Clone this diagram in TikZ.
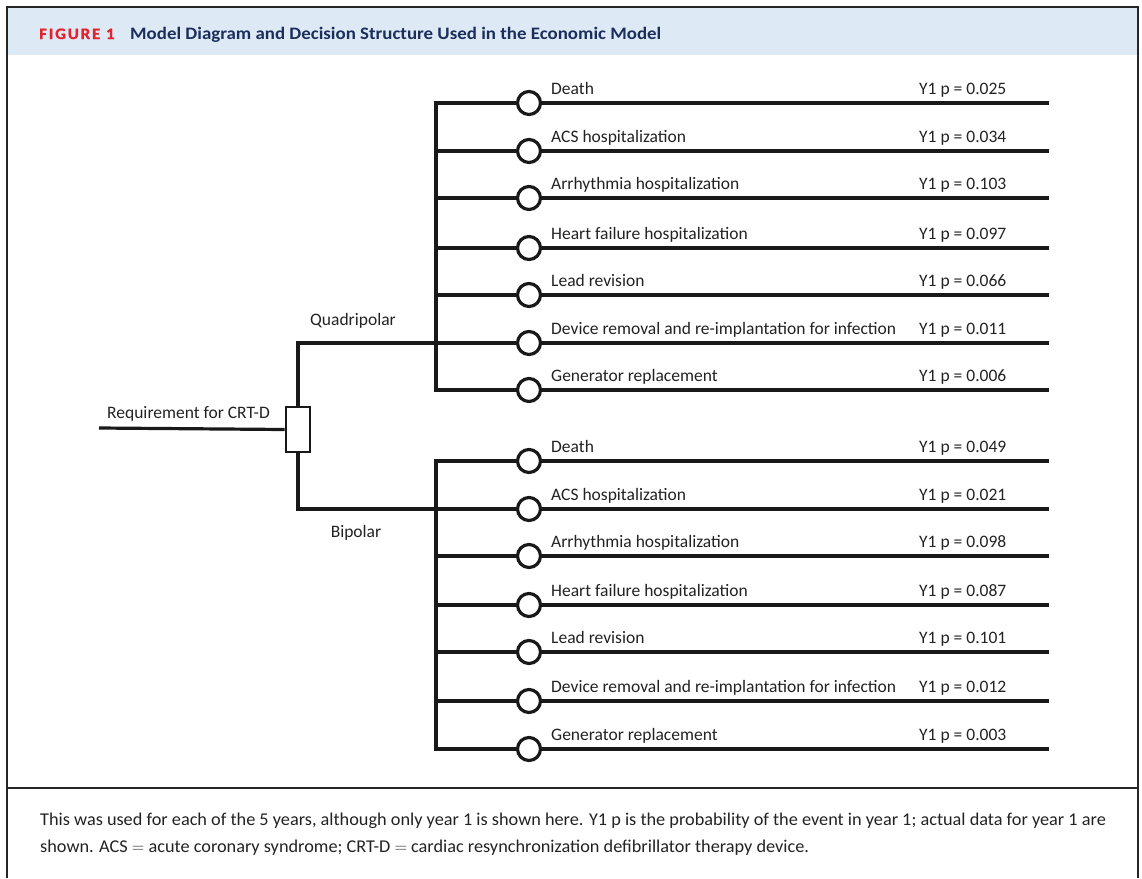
\documentclass[tikz,border=0pt]{standalone}
\usepackage{fontspec}
\setmainfont{Carlito}
\newfontfamily\capfont[FakeStretch=1.015]{Carlito}
\newfontfamily\titlefont[FakeStretch=1.08]{Carlito}
\newfontfamily\figfont[LetterSpace=12, FakeBold=1.2, FakeStretch=1.05]{Carlito Bold}
\definecolor{bandblue}{HTML}{DDE9F5}
\definecolor{figred}{HTML}{E3222D}
\definecolor{navy}{HTML}{1B2E5C}
\definecolor{txt}{HTML}{222222}
\tikzset{
  tree/.style={line width=3.2pt, black!90},
  chance/.style={circle, draw=black!90, line width=3.2pt, fill=white, minimum size=23pt, inner sep=0pt},
  decision/.style={rectangle, draw=black!90, line width=2.8pt, fill=white, minimum width=24pt, minimum height=45pt, inner sep=0pt},
  evlab/.style={anchor=base west, inner sep=0pt, font=\fontsize{17.5}{20}\selectfont, text=txt},
  plab/.style={anchor=base west, inner sep=0pt, font=\fontsize{17.5}{20}\selectfont, text=txt},
  armlab/.style={anchor=base, inner sep=0pt, font=\fontsize{17.5}{20}\selectfont, text=txt},
  caplab/.style={anchor=base west, inner sep=0pt, font=\capfont\fontsize{18}{20}\selectfont, text=txt},
  frame/.style={line width=1.8pt, black!85}
}
\begin{document}
\begin{tikzpicture}[x=1pt,y=-1pt]
\useasboundingbox (0,0) rectangle (1142,878);
% header band and frame
\fill[bandblue] (7,8) rectangle (1138,55);
\draw[frame] (7,878) -- (7,7) -- (1138,7) -- (1138,878);
\draw[frame] (7,788) -- (1138,788);
\node[anchor=base west, inner sep=0pt, font=\figfont\fontsize{16}{18}\selectfont, text=figred] (fig) at (39,39) {FIGURE 1};
\node[anchor=base west, inner sep=0pt, font=\titlefont\bfseries\fontsize{17.5}{20}\selectfont, text=navy] (title) at (130,39) {Model Diagram and Decision Structure Used in the Economic Model};

% decision node
\coordinate (in) at (99,428);
\node[decision] (dec) at (298,429.5) {};
\draw[tree] (in) -- (dec.west);
\node[plab] (req) at (107,418) {Requirement for CRT-D};

% Quadripolar arm
\foreach \i/\y/\lab/\p in {1/103/Death/0.025, 2/151/ACS hospitalization/0.034, 3/198/Arrhythmia hospitalization/0.103, 4/248/Heart failure hospitalization/0.097, 5/295/Lead revision/0.066, 6/343/Device removal and re-implantation for infection/0.011, 7/390/Generator replacement/0.006}{
  \coordinate (qL\i) at (436,\y);
  \coordinate (qR\i) at (1049,\y);
  \node[chance] (qc\i) at (529,\y) {};
  \draw[tree] (qL\i) -- (qc\i.west);
  \draw[tree] (qc\i.east) -- (qR\i);
  \node[evlab] (qe\i) at (551,\y-8.5) {\lab};
  \node[plab] (qp\i) at (919,\y-8.5) {Y1 p = \p};
}
\draw[tree, line cap=rect] (qL1) -- (qL7);
\draw[tree] (dec.north) |- (qL6);
\node[armlab] (quad) at (353,325) {Quadripolar};

% Bipolar arm
\foreach \i/\y/\lab/\p in {1/461/Death/0.049, 2/509/ACS hospitalization/0.021, 3/556/Arrhythmia hospitalization/0.098, 4/605/Heart failure hospitalization/0.087, 5/652/Lead revision/0.101, 6/701/Device removal and re-implantation for infection/0.012, 7/749/Generator replacement/0.003}{
  \coordinate (bL\i) at (436,\y);
  \coordinate (bR\i) at (1049,\y);
  \node[chance] (bc\i) at (529,\y) {};
  \draw[tree] (bL\i) -- (bc\i.west);
  \draw[tree] (bc\i.east) -- (bR\i);
  \node[evlab] (be\i) at (551,\y-8.5) {\lab};
  \node[plab] (bp\i) at (919,\y-8.5) {Y1 p = \p};
}
\draw[tree, line cap=rect] (bL1) -- (bL7);
\draw[tree] (dec.south) |- (bL2);
\node[armlab] (bip) at (356,537) {Bipolar};

% caption
\node[caplab] (cap1) at (40,825) {This was used for each of the 5 years, although only year 1 is shown here. Y1 p is the probability of the event in year 1; actual data for year 1 are};
\node[caplab] (cap2) at (40,852) {shown. ACS $=$ acute coronary syndrome; CRT-D $=$ cardiac resynchronization defibrillator therapy device.};
\end{tikzpicture}
\end{document}
